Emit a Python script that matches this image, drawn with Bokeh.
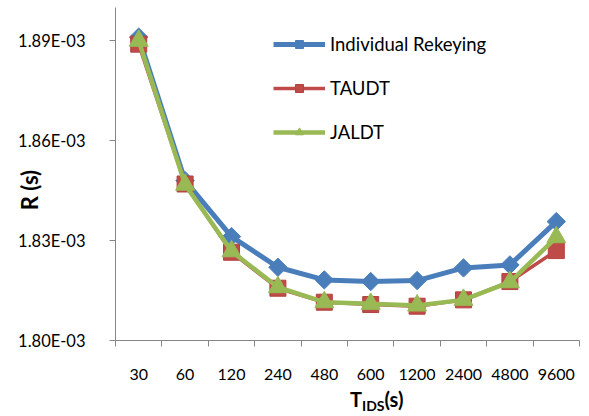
from bokeh.plotting import figure
from bokeh.models import (FixedTicker, CustomJSTickFormatter, Range1d, Legend, LegendItem, Div)
from bokeh.layouts import column
from bokeh.embed import file_html
from bokeh.resources import INLINE

categories = ["30", "60", "120", "240", "480", "600", "1200", "2400", "4800", "9600"]
individual = [1.8911e-3, 1.8480e-3, 1.8312e-3, 1.8220e-3, 1.8182e-3, 1.8177e-3, 1.8180e-3, 1.8218e-3, 1.8227e-3, 1.8357e-3]
taudt = [1.8890e-3, 1.8470e-3, 1.8265e-3, 1.8157e-3, 1.8115e-3, 1.8108e-3, 1.8103e-3, 1.8122e-3, 1.8177e-3, 1.8270e-3]
jaldt = [1.8900e-3, 1.8468e-3, 1.8268e-3, 1.8160e-3, 1.8115e-3, 1.8110e-3, 1.8105e-3, 1.8122e-3, 1.8175e-3, 1.8310e-3]
y_ticks = [1.80e-3, 1.83e-3, 1.86e-3, 1.89e-3]

FONT = "Lato"
xs = list(range(len(categories)))

p = figure(width=585, height=384, output_backend="svg", toolbar_location=None,
           x_range=Range1d(-0.5, len(categories) - 0.5), y_range=Range1d(1.80e-3, 1.90e-3),
           min_border_left=115, min_border_right=6, min_border_top=7, min_border_bottom=44)
p.outline_line_color = None
p.xgrid.visible = False
p.ygrid.visible = False

AX = "#868686"
# x axis
p.xaxis.ticker = FixedTicker(ticks=xs, minor_ticks=[i - 0.5 for i in range(len(categories) + 1)])
p.xaxis.major_label_overrides = {i: c for i, c in enumerate(categories)}
p.xaxis.major_tick_line_color = None
p.xaxis.minor_tick_line_color = AX
p.xaxis.minor_tick_out = 6
p.xaxis.minor_tick_in = 0
p.xaxis.axis_line_color = AX
p.xaxis.major_label_standoff = 22
p.xaxis.major_label_text_font = FONT
p.xaxis.major_label_text_font_size = "16px"
p.xaxis.major_label_text_color = "#000000"

# y axis
p.yaxis.ticker = FixedTicker(ticks=y_ticks, minor_ticks=[])
p.yaxis.formatter = CustomJSTickFormatter(code="return tick.toExponential(2).replace('e-3','E-03');")
p.yaxis.major_tick_line_color = AX
p.yaxis.major_tick_out = 6
p.yaxis.major_tick_in = 0
p.yaxis.axis_line_color = AX
p.yaxis.major_label_standoff = 24
p.yaxis.major_label_text_font = FONT
p.yaxis.major_label_text_font_size = "16.5px"
p.yaxis.major_label_text_color = "#000000"
p.yaxis.axis_label = "R (s)" + "\u00a0" * 6
p.yaxis.axis_label_text_font = FONT
p.yaxis.axis_label_text_font_style = "bold"
p.yaxis.axis_label_text_font_size = "22px"
p.yaxis.axis_label_text_color = "#000000"
p.yaxis.axis_label_standoff = -28

BLUE = "#4A7EBB"
RED = "#BE4B48"
GREEN = "#98B954"

l1 = p.line(xs, individual, line_color=BLUE, line_width=5)
m1 = p.scatter(xs, individual, marker="square", angle=0.7854, size=13, fill_color=BLUE, line_color=BLUE)
l2 = p.line(xs, taudt, line_color=RED, line_width=3.5)
m2 = p.scatter(xs, taudt, marker="square", size=16, fill_color=RED, line_color="#B5423F")
l3 = p.line(xs, jaldt, line_color=GREEN, line_width=4.5)
m3 = p.scatter(xs, jaldt, marker="triangle", size=19, fill_color=GREEN, line_color=GREEN)

legend = Legend(items=[LegendItem(label="Individual Rekeying", renderers=[l1, m1]),
                       LegendItem(label="TAUDT", renderers=[l2, m2]),
                       LegendItem(label="JALDT", renderers=[l3, m3])],
                location=(158, 197), padding=0, margin=0, spacing=22,
                glyph_width=52, glyph_height=20, label_height=20, label_standoff=5,
                border_line_color=None, background_fill_alpha=0,
                label_text_font=FONT, label_text_font_size="18.5px", label_text_color="#000000")
p.add_layout(legend, "center")

title = Div(width=585, height=30,
            text='<div style="padding-left:345px; white-space:nowrap; font-family:Lato; '
                 'font-weight:bold; font-size:20px; line-height:20px; color:#000;">'
                 'T<span style="font-size:14px; position:relative; top:4px;">IDS</span>(s)</div>')

layout = column(p, title, spacing=0)
open("out.html", "w").write(file_html(layout, INLINE))
